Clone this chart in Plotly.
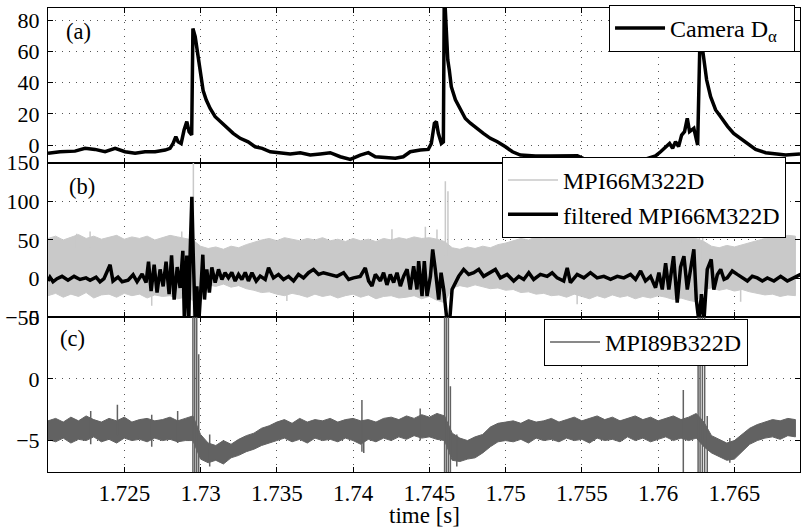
import plotly.graph_objects as go
from plotly.subplots import make_subplots

# ---------------- axes ----------------
x_range = [1.7200, 1.7693]
x_tickvals = [1.725, 1.73, 1.735, 1.74, 1.745, 1.75, 1.755, 1.76, 1.765]
x_ticktext = ["1.725", "1.73", "1.735", "1.74", "1.745", "1.75", "1.755", "1.76", "1.765"]
a_range, a_ticks = [-11.3, 87.9], [0, 20, 40, 60, 80]
b_range, b_ticks = [-50, 150], [-50, 0, 50, 100, 150]
c_range, c_ticks = [-7.55, 5], [-5, 0, 5]

# ---------------- (a) Camera D-alpha ----------------
cam_t = [1.72000, 1.72079, 1.72177, 1.72243, 1.72308, 1.72374, 1.72440, 1.72505, 1.72571, 1.72636,
         1.72702, 1.72768, 1.72800, 1.72820, 1.72838, 1.72853, 1.72873, 1.72892, 1.72910, 1.72925,
         1.72942, 1.72950, 1.72965, 1.72984, 1.72997, 1.73017, 1.73037, 1.73063, 1.73096, 1.73129,
         1.73173, 1.73214, 1.73260, 1.73312, 1.73358, 1.73404, 1.73457, 1.73522, 1.73588, 1.73654,
         1.73719, 1.73785, 1.73850, 1.73916, 1.73982, 1.74047, 1.74100, 1.74146, 1.74211, 1.74277,
         1.74329, 1.74375, 1.74441, 1.74493, 1.74513, 1.74533, 1.74546, 1.74559, 1.74579, 1.74592,
         1.74598, 1.74605, 1.74612, 1.74621, 1.74631, 1.74644, 1.74671, 1.74703, 1.74736, 1.74769,
         1.74808, 1.74854, 1.74900, 1.74946, 1.74999, 1.75045, 1.75097, 1.75196, 1.75294, 1.75380,
         1.75470, 1.75530, 1.75700, 1.75900, 1.75983, 1.76016, 1.76049, 1.76075, 1.76095, 1.76114,
         1.76134, 1.76154, 1.76173, 1.76191, 1.76206, 1.76219, 1.76234, 1.76259, 1.76275, 1.76285,
         1.76298, 1.76318, 1.76344, 1.76377, 1.76410, 1.76455, 1.76495, 1.76541, 1.76593, 1.76639,
         1.76705, 1.76770, 1.76836, 1.76930]
cam_v = [-5.3, -4.3, -3.9, -2.1, -2.8, -4.3, -2.1, -4.3, -5.3, -4.3,
         -4.3, -3.2, -2.1, 1.0, 5.3, 2.1, 1.0, 9.6, 15.0, 8.6,
         6.4, 74.8, 69.5, 56.6, 48.0, 35.0, 29.0, 23.5, 18.2, 15.0,
         10.7, 7.5, 4.3, 2.1, -1.1, -2.1, -4.3, -4.9, -5.7, -4.9,
         -6.4, -5.7, -4.9, -7.5, -9.2, -6.4, -4.9, -7.5, -8.0, -8.5,
         -7.5, -4.3, -3.2, -2.8, 1.0, 13.9, 15.0, 7.5, 1.0, 2.0,
         100.0, 86.0, 65.0, 54.5, 48.0, 37.4, 29.0, 22.5, 17.0, 14.0,
         10.7, 7.5, 4.3, 2.1, -1.1, -4.3, -6.4, -7.0, -7.0, -6.8,
         -6.8, -9.5, -10.0, -9.5, -7.0, -4.3, -1.1, 1.0, -2.0, 2.1,
         -1.0, 6.4, 8.6, 17.1, 8.6, 9.6, 10.7, 0.0, 72.0, 66.0,
         54.5, 41.7, 31.0, 22.5, 18.2, 12.0, 7.5, 4.3, 1.0, -2.8,
         -4.9, -5.7, -6.4, -5.7]

# ---------------- (b) filtered MPI66M322D ----------------
fb_t = [1.72000, 1.72013, 1.72033, 1.72059, 1.72092, 1.72131, 1.72171, 1.72210, 1.72249, 1.72276,
        1.72315, 1.72341, 1.72367, 1.72407, 1.72426, 1.72459, 1.72486, 1.72525, 1.72558, 1.72584,
        1.72617, 1.72643, 1.72659, 1.72676, 1.72696, 1.72715, 1.72735, 1.72755, 1.72774, 1.72794,
        1.72810, 1.72827, 1.72847, 1.72866, 1.72884, 1.72894, 1.72910, 1.72923, 1.72932, 1.72943,
        1.72953, 1.72965, 1.72976, 1.72989, 1.73002, 1.73015, 1.73026, 1.73041, 1.73058, 1.73074,
        1.73096, 1.73118, 1.73140, 1.73161, 1.73183, 1.73205, 1.73227, 1.73249, 1.73271, 1.73293,
        1.73314, 1.73337, 1.73365, 1.73391, 1.73424, 1.73446, 1.73478, 1.73511, 1.73544, 1.73577,
        1.73610, 1.73642, 1.73675, 1.73708, 1.73741, 1.73774, 1.73806, 1.73850, 1.73894, 1.73938,
        1.73971, 1.74003, 1.74047, 1.74080, 1.74102, 1.74124, 1.74146, 1.74179, 1.74200, 1.74222,
        1.74244, 1.74266, 1.74288, 1.74310, 1.74331, 1.74354, 1.74375, 1.74397, 1.74419, 1.74430,
        1.74452, 1.74467, 1.74485, 1.74507, 1.74522, 1.74539, 1.74561, 1.74577, 1.74594, 1.74616,
        1.74633, 1.74649, 1.74671, 1.74692, 1.74725, 1.74758, 1.74791, 1.74824, 1.74856, 1.74900,
        1.74933, 1.74966, 1.75010, 1.75053, 1.75086, 1.75119, 1.75152, 1.75184, 1.75228, 1.75272,
        1.75305, 1.75338, 1.75381, 1.75404, 1.75425, 1.75469, 1.75513, 1.75556, 1.75600, 1.75644,
        1.75688, 1.75732, 1.75775, 1.75819, 1.75852, 1.75885, 1.75917, 1.75950, 1.75983, 1.76005,
        1.76027, 1.76049, 1.76070, 1.76101, 1.76125, 1.76147, 1.76169, 1.76191, 1.76213, 1.76234,
        1.76250, 1.76267, 1.76284, 1.76300, 1.76322, 1.76348, 1.76365, 1.76388, 1.76410, 1.76432,
        1.76453, 1.76486, 1.76519, 1.76552, 1.76585, 1.76617, 1.76650, 1.76683, 1.76716, 1.76759,
        1.76803, 1.76847, 1.76890, 1.76934]
fb_v = [-3, 2, -4, 0, 3, -2, 3, -1, 1, -2,
        2, -4, 0, 18, -3, 2, -4, -2, 5, -4,
        6, -5, 22, -16, 18, -18, 12, -10, 22, -20,
        30, -27, 15, -12, 36, -55, 30, -55, 34, 106,
        25, -55, -10, -55, -14, 31, -27, 12, -18, 14.5,
        -5, 12, -1, 7.7, 1.2, 8, -3, 5.5, -1, 8,
        -3, 7.7, -3, 3.3, -1, 14, 1, 5.5, -1, 3,
        -3, 5.5, 1, 7.7, 12, 5.5, 7.7, 5.5, 3, 7.7,
        -1, 1, 3, 14, -3, -9.6, 5.5, -3, 7.7, -8,
        5.5, -5, 7.7, -9.6, 3, 12, -14, 16, -14, 22.6,
        -22.5, 22.6, -22.5, 3, 37.7, 12, -27, 7.7, -14, -55,
        -55, -14, -5, 3, 12, 5.5, 7.7, 12, 3, 7.7,
        12, 1, 5.5, -3, 3, -1, 7.7, -1, 5.5, 3,
        7.7, 1, -3, 14, -5, 5.5, 1, 7.7, 1, 3,
        -1, 3, 1, 5.5, -1, 10, -3, 3, -11.7, 7.7,
        -14, 20, -14, 29, -31, 15, 29, -14, 12, 38,
        -27, -55, -20, -55, 12, 25, -14, 5, 12, -1,
        1, 10, 5.5, 1, -3, 3, 1, -3, 1, -3,
        3, -3, 1, 5.5]

# ---------------- (b) raw MPI66M322D : envelope of the dense signal, every 0.5 ms ----------------
env_t = [round(1.7200 + 0.0005 * k, 4) for k in range(99)]
raw_hi = [52, 55, 50, 54, 57, 52, 55, 51, 54, 56, 51, 54, 52, 55, 50, 53, 56, 54, 52, 50,
          42, 39, 41, 38, 42, 40, 44, 47, 50, 52, 49, 53, 51, 49, 52, 50, 53, 49, 51, 48,
          52, 49, 51, 48, 52, 50, 53, 51, 54, 52, 53, 51, 48, 40, 38, 41, 39, 42, 40, 44,
          46, 49, 52, 50, 54, 52, 55, 53, 56, 54, 57, 55, 53, 56, 54, 57, 55, 53, 56, 54,
          57, 55, 53, 56, 54, 52, 48, 42, 40, 43, 41, 44, 46, 49, 52, 54, 53, 56, 55]
raw_lo = [-22, -19, -24, -20, -23, -18, -25, -21, -20, -24, -19, -22, -20, -25, -21, -23, -22, -26, -24, -28,
          -12, -8, -10, -7, -11, -9, -13, -15, -18, -17, -20, -22, -19, -21, -24, -20, -23, -21, -25, -22,
          -20, -24, -21, -26, -23, -22, -25, -24, -22, -26, -23, -28, -31, -12, -9, -11, -8, -10, -13, -12,
          -15, -14, -18, -17, -20, -19, -22, -21, -24, -20, -23, -26, -22, -25, -21, -24, -22, -26, -23, -25,
          -22, -24, -27, -25, -28, -30, -14, -12, -15, -13, -16, -14, -17, -19, -21, -20, -23, -21, -22]
raw_spk_t = [1.72188, 1.72276, 1.72680, 1.72877, 1.72953, 1.73566, 1.74255, 1.74474, 1.74550,
             1.74605, 1.74622, 1.75469, 1.75850, 1.76147, 1.76270, 1.76292, 1.76541]
raw_spk_lo = [40, 40, -35, 45, -60, -29, 45, 45, 45, 30, 30, -33, 45, 45, -20, -20, -30]
raw_spk_hi = [58, 61, -10, 61, 160, -10, 64, 67, 63.5, 126, 113, -15, 60, 67, 95, 100, -10]

# ---------------- (c) MPI89B322D : envelope every 0.5 ms ----------------
c_hi = [-3.4, -3.2, -3.5, -3.1, -3.4, -3.0, -3.3, -3.5, -3.2, -3.4, -3.1, -3.5, -3.3, -3.2, -3.4, -3.3, -3.1, -3.4, -3.2, -3.0,
        -4.5, -5.2, -5.4, -5.0, -5.3, -4.9, -4.6, -4.4, -4.0, -3.8, -3.5, -3.3, -3.6, -3.2, -3.5, -3.3, -3.4, -3.2, -3.5, -3.3,
        -3.2, -3.4, -3.3, -3.5, -3.2, -3.1, -3.3, -3.0, -3.2, -2.9, -3.1, -2.8, -3.0, -4.4, -4.8, -5.0, -4.7, -4.5, -3.9, -3.6,
        -3.5, -3.4, -3.6, -3.3, -3.5, -3.4, -3.2, -3.5, -3.3, -3.1, -3.4, -3.2, -3.0, -3.3, -3.1, -3.4, -3.2, -3.0, -3.3, -3.1,
        -3.4, -3.2, -3.0, -3.3, -3.1, -2.8, -3.5, -4.6, -4.9, -5.2, -5.0, -4.5, -4.0, -3.7, -3.5, -3.3, -3.4, -3.2, -3.3]
c_lo = [-4.9, -5.1, -4.8, -5.2, -4.9, -5.0, -4.7, -5.1, -4.9, -5.2, -4.8, -5.0, -4.9, -5.1, -4.8, -5.0, -4.9, -5.1, -5.0, -5.0,
        -6.5, -6.8, -6.6, -6.9, -6.4, -6.2, -5.9, -5.7, -5.4, -5.2, -5.0, -4.8, -5.1, -4.9, -5.2, -4.8, -5.0, -4.9, -5.1, -4.8,
        -5.0, -5.3, -4.9, -5.1, -4.8, -5.0, -4.7, -4.9, -4.6, -4.8, -4.7, -4.9, -5.0, -6.6, -6.7, -6.5, -6.4, -6.0, -5.5, -5.1,
        -5.0, -5.1, -4.9, -5.2, -4.8, -5.0, -4.9, -5.1, -4.8, -5.0, -4.9, -5.2, -4.8, -5.0, -4.9, -5.1, -4.7, -5.0, -4.8, -5.1,
        -4.9, -4.7, -5.0, -4.8, -5.0, -4.8, -5.5, -6.0, -6.3, -6.6, -6.5, -5.9, -5.3, -5.0, -4.8, -4.7, -4.9, -4.6, -4.7]
c_spk_t = [1.72280, 1.72455, 1.72680, 1.72850, 1.72950, 1.72962, 1.72975, 1.72988, 1.73060,
           1.74058, 1.74070, 1.74440, 1.74600, 1.74612, 1.74625, 1.74638, 1.74680,
           1.76165, 1.76262, 1.76275, 1.76290, 1.76305, 1.76322, 1.76470]
c_spk_lo = [-5.3, -4.6, -5.5, -5.2, -8, -8, -8, -8, -7.1,
            -5.9, -6.0, -5.0, -8, -8, -8, -8, -7.1,
            -8, -8, -8, -8, -8, -8, -6.8]
c_spk_hi = [-2.6, -2.1, -2.9, -2.6, 6, 6, 6, 2, -4.5,
            -1.7, -3.5, -2.4, 6, 6, 6, -0.6, -4.5,
            -0.9, 6, 6, 6, 6, -3.0, -4.8]

# ---------------- styling ----------------
FONT = "Liberation Serif, Times New Roman, DejaVu Serif, serif"
FS_Y, FS_X, FS_LEG, FS_LAB = 22, 23, 24, 22.5
LIGHT = "#c9c9c9"
DARK = "#626262"


def strokes(ts, los, his):
    xs, ys = [], []
    for t, lo, hi in zip(ts, los, his):
        xs += [t, t, None]
        ys += [lo, hi, None]
    return xs, ys


fig = make_subplots(rows=3, cols=1, shared_xaxes=True, vertical_spacing=0)

# (a)
fig.add_trace(go.Scatter(x=cam_t, y=cam_v, mode="lines", line=dict(color="black", width=3.5),
                         name="Camera D<sub>α</sub>\u00a0\u00a0", legend="legend"), row=1, col=1)

# (b) raw band
fig.add_trace(go.Scatter(x=env_t + env_t[::-1], y=raw_hi + raw_lo[::-1], mode="lines", fill="toself",
                         fillcolor=LIGHT, line=dict(color=LIGHT, width=1), showlegend=False,
                         hoverinfo="skip"), row=2, col=1)
sx, sy = strokes(raw_spk_t, raw_spk_lo, raw_spk_hi)
fig.add_trace(go.Scatter(x=sx, y=sy, mode="lines", line=dict(color=LIGHT, width=1.5),
                         name="MPI66M322D", legend="legend2"), row=2, col=1)
fig.add_trace(go.Scatter(x=fb_t, y=fb_v, mode="lines", line=dict(color="black", width=3.5),
                         name="filtered MPI66M322D", legend="legend2"), row=2, col=1)

# (c)
fig.add_trace(go.Scatter(x=env_t + env_t[::-1], y=c_hi + c_lo[::-1], mode="lines", fill="toself",
                         fillcolor=DARK, line=dict(color=DARK, width=1), showlegend=False,
                         hoverinfo="skip"), row=3, col=1)
sx, sy = strokes(c_spk_t, c_spk_lo, c_spk_hi)
fig.add_trace(go.Scatter(x=sx, y=sy, mode="lines", line=dict(color=DARK, width=1.5),
                         name="MPI89B322D", legend="legend3"), row=3, col=1)

axis_common = dict(showline=True, linecolor="black", linewidth=1, mirror="ticks",
                   ticks="inside", ticklen=5, tickcolor="black",
                   showgrid=True, gridcolor="#555555", griddash="1px,6px", gridwidth=1,
                   zeroline=False)

for r in (1, 2, 3):
    fig.update_xaxes(range=x_range, tickvals=x_tickvals, ticktext=x_ticktext,
                     showticklabels=(r == 3), row=r, col=1,
                     tickfont=dict(family=FONT, size=FS_X, color="black"), **axis_common)
yfont = dict(family=FONT, size=FS_Y, color="black")
fig.update_yaxes(range=a_range, tickvals=a_ticks, row=1, col=1, tickfont=yfont, ticklabelstandoff=3, **axis_common)
fig.update_yaxes(range=b_range, tickvals=b_ticks, row=2, col=1, tickfont=yfont, ticklabelstandoff=3, **axis_common)
fig.update_yaxes(range=c_range, tickvals=c_ticks, row=3, col=1, tickfont=yfont, ticklabelstandoff=3, **axis_common)

leg_common = dict(bgcolor="white", bordercolor="black", borderwidth=1, itemwidth=50,
                  font=dict(family=FONT, size=FS_LEG, color="black"), xanchor="right", yanchor="top")
fig.update_layout(
    width=802, height=531,
    margin=dict(l=48, r=2, t=8, b=59, autoexpand=False),
    paper_bgcolor="white", plot_bgcolor="white",
    font=dict(family=FONT, size=FS_Y, color="black"),
    legend=dict(x=0.9934, y=1.0065, **leg_common),
    legend2=dict(x=0.9814, y=0.6789, tracegroupgap=0, **leg_common),
    legend3=dict(x=0.9309, y=0.3297, **leg_common),
)

for lab, xp, yp, yref in [("(a)", 0.0412, 0.845, "y domain"),
                          ("(b)", 0.0450, 0.845, "y2 domain"),
                          ("(c)", 0.0320, 0.865, "y3 domain")]:
    fig.add_annotation(text=lab, x=xp, y=yp, xref="paper", yref=yref, showarrow=False,
                       xanchor="center", yanchor="middle",
                       font=dict(family=FONT, size=FS_LAB, color="black"))

# x-axis title placed just under the tick labels
fig.add_annotation(text="time [s]", x=0.5, y=-0.0927, xref="paper", yref="paper", showarrow=False,
                   xanchor="center", yanchor="middle",
                   font=dict(family=FONT, size=FS_X, color="black"))

fig.write_html("out.html", config={"displayModeBar": False},
               post_script="document.body.style.margin='0';")
